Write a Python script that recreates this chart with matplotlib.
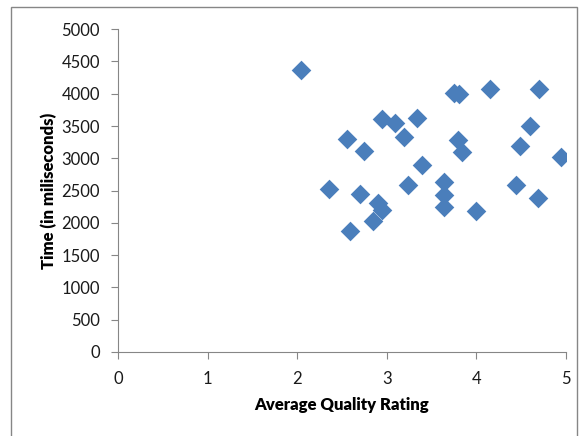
import matplotlib.pyplot as plt
import matplotlib.patches as mpatches

# Average quality rating vs. time
quality = [2.04, 3.75, 3.80, 4.15, 4.70, 2.95, 3.09, 3.34, 4.60, 2.55,
           3.19, 3.79, 2.75, 3.84, 4.49, 4.94, 3.39, 2.35, 2.70, 3.24,
           3.64, 3.64, 3.64, 4.44, 4.69, 2.90, 2.95, 4.00, 2.85, 2.59]
time_ms = [4370, 4010, 3990, 4070, 4075, 3606, 3553, 3630, 3502, 3296,
           3336, 3285, 3119, 3103, 3187, 3021, 2893, 2530, 2448, 2587,
           2634, 2428, 2247, 2587, 2381, 2313, 2200, 2185, 2030, 1879]

x_ticks = [0, 1, 2, 3, 4, 5]
y_ticks = list(range(0, 5001, 500))

plt.rcParams['font.family'] = ['Lato', 'DejaVu Sans']

fig = plt.figure(figsize=(5.82, 4.36), dpi=100)
ax = fig.add_axes([0.203, 0.193, 0.7695, 0.74])

ax.scatter(quality, time_ms, marker='D', s=100, color='#4A7EBB', linewidths=0)

ax.set_xlim(0, 5)
ax.set_ylim(0, 5000)
ax.set_xticks(x_ticks)
ax.set_yticks(y_ticks)
ax.tick_params(direction='out', length=5, color='#868686', labelsize=12,
               labelcolor='#1a1a1a')
ax.tick_params(axis='y', pad=8)
ax.tick_params(axis='x', pad=9)
for side in ['top', 'right']:
    ax.spines[side].set_visible(False)
for side in ['left', 'bottom']:
    ax.spines[side].set_color('#868686')

ax.set_xlabel("Average Quality Rating", fontsize=12, fontweight='heavy', labelpad=7)
ax.set_ylabel("Time (in miliseconds)", fontsize=12, fontweight='heavy', labelpad=3)

# outer chart frame
fig.patches.append(mpatches.Rectangle((11 / 582, -0.01), 566 / 582, 1 - 7 / 436 + 0.01,
                                      transform=fig.transFigure, fill=False,
                                      edgecolor='#868686', linewidth=1))

fig.savefig("out.png", dpi=100)
